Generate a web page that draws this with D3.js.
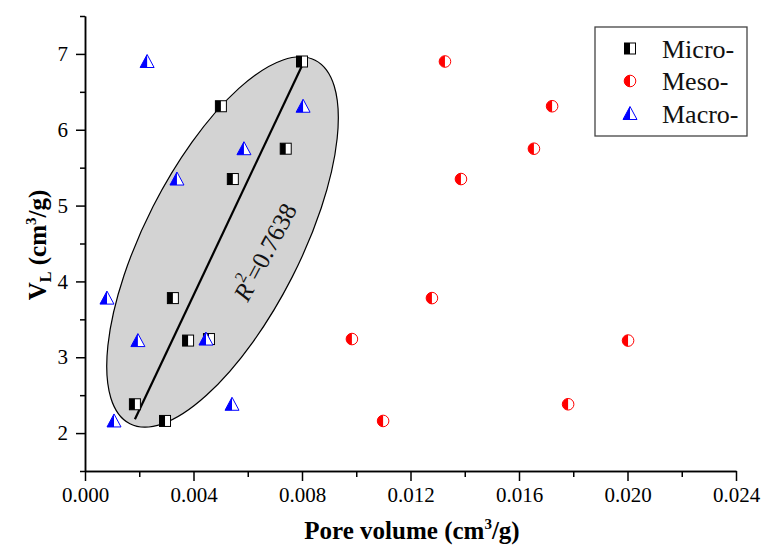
<!DOCTYPE html>
<html>
<head>
<meta charset="utf-8">
<script src="https://cdn.jsdelivr.net/npm/d3@7"></script>
</head>
<body style="margin:0">
<svg id="chart" width="762" height="545" style="font-family: 'Liberation Serif'"></svg>
<script>
// Langmuir volume vs pore volume (one value per sample)
const VL = [6.90, 6.31, 5.75, 5.35, 3.78, 3.22, 3.24, 2.38, 2.16];
const micro = [0.0080, 0.00501, 0.0074, 0.00545, 0.00324, 0.0038, 0.00457, 0.00184, 0.00295];
const meso = [0.01327, 0.01722, 0.01655, 0.01386, 0.01279, 0.02002, 0.00984, 0.01781, 0.01099];
const macro = [0.00229, 0.00804, 0.00586, 0.00339, 0.00081, 0.00195, 0.00446, 0.00542, 0.00107];

const seriesNames = ["Micro-", "Meso-", "Macro-"];
const xTicks = [0, 0.004, 0.008, 0.012, 0.016, 0.020, 0.024];
const xMinor = [0.002, 0.006, 0.010, 0.014, 0.018, 0.022];
const yTicks = [2, 3, 4, 5, 6, 7];
const yMinor = [1.5, 2.5, 3.5, 4.5, 5.5, 6.5, 7.5];

const r2Label = "0.7638";
const ellipseCenter = [0.00507, 4.52];   // data units

const svg = d3.select("#chart");

const x = d3.scaleLinear().domain([0, 0.024]).range([85, 736]);
const y = d3.scaleLinear().domain([1.5, 7.5]).range([471, 16]);

// every text goes through this so the serif face sticks
function serifText(sel) {
  return sel.style("font-family", d => '"Liberation Serif"');
}

// grey ellipse round the micro points
svg.append("ellipse")
  .attr("cx", 0).attr("cy", 0)
  .attr("rx", 204).attr("ry", 78)
  .attr("transform", `translate(${x(ellipseCenter[0])},${y(ellipseCenter[1])}) rotate(-63)`)
  .attr("fill", "#d3d3d3")
  .attr("stroke", "#000")
  .attr("stroke-width", 1.2);

// least squares fit of VL on micro pore volume
let mx = d3.mean(micro), my = d3.mean(VL);
let sxy = d3.sum(micro, (d, i) => (d - mx) * (VL[i] - my));
let sxx = d3.sum(micro, d => (d - mx) * (d - mx));
let slope = sxy / sxx, icpt = my - slope * mx;
let fitX = d3.extent(micro);

svg.append("line")
  .attr("x1", x(fitX[0])).attr("y1", y(icpt + slope * fitX[0]))
  .attr("x2", x(fitX[1])).attr("y2", y(icpt + slope * fitX[1]))
  .attr("stroke", "#000")
  .attr("stroke-width", 2.2);

// R² label along the line
let r2 = svg.append("text")
  .attr("transform", `translate(${x(0.00663)},${y(4.39)}) rotate(-62)`)
  .attr("text-anchor", "middle")
  .attr("dominant-baseline", "central")
  .attr("font-size", 25)
  .attr("fill", "#111")
  .call(serifText);
r2.append("tspan").attr("font-style", "italic").text("R");
r2.append("tspan").attr("font-size", 16).attr("dy", -10).text("2");
r2.append("tspan").attr("dy", 10).text("=" + r2Label);

// axes
let axisStyle = g => {
  g.attr("font-family", null);
  g.selectAll("path, line").attr("stroke", "#000").attr("stroke-width", 1.5);
  g.selectAll("text").attr("font-size", 21).attr("fill", "#000").call(serifText);
};

svg.append("g")
  .attr("transform", "translate(0,471)")
  .call(d3.axisBottom(x).tickValues(xMinor).tickSize(6).tickFormat("").tickSizeOuter(0))
  .call(axisStyle);
svg.append("g")
  .attr("transform", "translate(0,471)")
  .call(d3.axisBottom(x).tickValues(xTicks).tickSize(10).tickPadding(6)
    .tickFormat(d3.format(".3f")).tickSizeOuter(0))
  .call(axisStyle);

svg.append("g")
  .attr("transform", "translate(85,0)")
  .call(d3.axisLeft(y).tickValues(yMinor).tickSize(5).tickFormat("").tickSizeOuter(0))
  .call(axisStyle);
svg.append("g")
  .attr("transform", "translate(85,0)")
  .call(d3.axisLeft(y).tickValues(yTicks).tickSize(9).tickPadding(8)
    .tickFormat(d3.format("d")).tickSizeOuter(0))
  .call(axisStyle);

// axis titles
let xt = svg.append("text")
  .attr("x", 412).attr("y", 539)
  .attr("text-anchor", "middle")
  .attr("font-size", 25).attr("font-weight", "bold")
  .call(serifText);
xt.append("tspan").text("Pore volume (cm");
xt.append("tspan").attr("font-size", 15).attr("dy", -10).text("3");
xt.append("tspan").attr("dy", 10).text("/g)");

let yt = svg.append("text")
  .attr("transform", "translate(46,245) rotate(-90)")
  .attr("text-anchor", "middle")
  .attr("font-size", 25).attr("font-weight", "bold")
  .call(serifText);
yt.append("tspan").text("V");
yt.append("tspan").attr("font-size", 16).attr("dy", 5).text("L");
yt.append("tspan").attr("dy", -5).text(" (cm");
yt.append("tspan").attr("font-size", 15).attr("dy", -10).text("3");
yt.append("tspan").attr("dy", 10).text("/g)");

// half-filled markers
function squareMark(g) {
  g.append("rect").attr("x", -5.5).attr("y", -5.5).attr("width", 11).attr("height", 11)
    .attr("fill", "#fff").attr("stroke", "#000").attr("stroke-width", 1);
  g.append("rect").attr("x", -5.5).attr("y", -5.5).attr("width", 5.5).attr("height", 11)
    .attr("fill", "#000");
}
function circleMark(g) {
  g.append("circle").attr("r", 5.8).attr("fill", "#fff").attr("stroke", "#f00").attr("stroke-width", 1);
  g.append("path").attr("d", "M0,-5.8A5.8,5.8 0 0 0 0,5.8Z").attr("fill", "#f00");
}
function triMark(g) {
  g.append("path").attr("d", "M-7,6L0,-7L7,6Z").attr("fill", "#fff").attr("stroke", "#00f").attr("stroke-width", 1);
  g.append("path").attr("d", "M-7,6L0,-7L0,6Z").attr("fill", "#00f");
}
const markFns = [squareMark, circleMark, triMark];

[micro, meso, macro].forEach((vals, k) => {
  svg.append("g").selectAll("g")
    .data(vals)
    .join("g")
    .attr("transform", (d, i) => `translate(${x(d)},${y(VL[i])})`)
    .each(function() { markFns[k](d3.select(this)); });
});

// legend
let legend = svg.append("g");
legend.append("rect")
  .attr("x", 595).attr("y", 27).attr("width", 152).attr("height", 109)
  .attr("fill", "#fff").attr("stroke", "#444").attr("stroke-width", 1.3);
legend.selectAll("g.item")
  .data(seriesNames)
  .join("g")
  .attr("class", "item")
  .attr("transform", (d, k) => `translate(630,${48.5 + k * 32.5})`)
  .each(function(d, k) {
    let row = d3.select(this);
    markFns[k](row);
    row.append("text").attr("x", 32).attr("dy", "0.35em")
      .attr("font-size", 26).attr("fill", "#111")
      .call(serifText)
      .text(d);
  });
</script>
</body>
</html>
